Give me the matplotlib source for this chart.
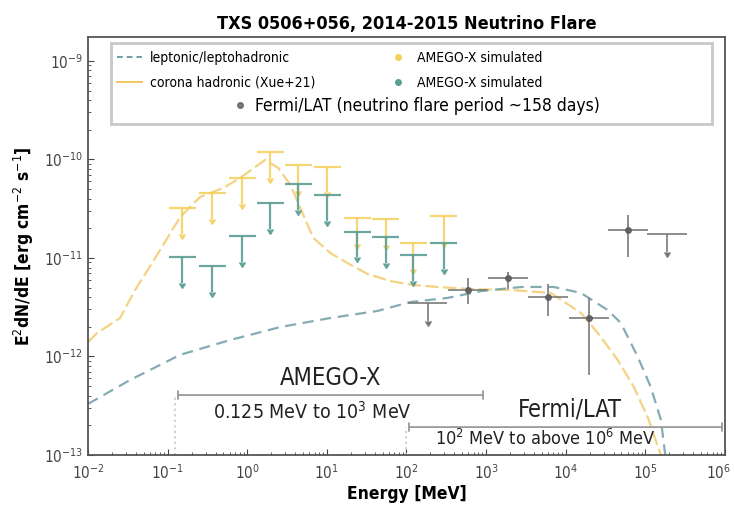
import numpy as np
import matplotlib.pyplot as plt
from matplotlib.lines import Line2D
from matplotlib.patches import Rectangle
from matplotlib.transforms import ScaledTranslation

plt.rcParams['font.family'] = ['DejaVu Sans']
plt.rcParams['font.stretch'] = 'condensed'
plt.rcParams['mathtext.fontset'] = 'custom'
plt.rcParams['mathtext.rm'] = 'DejaVu Sans:stretch=condensed'
plt.rcParams['mathtext.bf'] = 'DejaVu Sans:bold:stretch=condensed'

# model curves (energy in MeV, E^2 dN/dE in erg cm^-2 s^-1)
corona_e = [0.0100, 0.0130, 0.0253, 0.0390, 0.0638, 0.101, 0.144, 0.256, 0.499, 0.817,
            1.26, 1.68, 2.45, 3.48, 5.06, 6.76, 11.1, 18.1, 32.3, 63.0, 122, 245, 638,
            2030, 6470, 15500, 25300, 45100, 71600, 107000, 144000, 166000]
corona_f = [1.40e-12, 1.73e-12, 2.46e-12, 4.73e-12, 8.89e-12, 1.63e-11, 2.61e-11, 4.16e-11,
            5.14e-11, 6.49e-11, 8.39e-11, 9.89e-11, 8.20e-11, 5.51e-11, 2.74e-11, 1.60e-11,
            1.12e-11, 8.89e-12, 6.89e-12, 5.83e-12, 5.32e-12, 5.08e-12, 4.84e-12, 4.73e-12,
            4.42e-12, 2.77e-12, 1.73e-12, 9.20e-13, 4.90e-13, 2.43e-13, 1.21e-13, 8.9e-14]

lepto_e = [0.0100, 0.0337, 0.144, 0.611, 2.60, 11.1, 43.2, 112, 328, 877, 2800, 7060,
           15500, 33700, 49200, 80500, 117000, 157000, 181000]
lepto_f = [3.30e-13, 5.77e-13, 1.04e-12, 1.47e-12, 1.99e-12, 2.46e-12, 2.90e-12, 3.57e-12,
           3.93e-12, 4.62e-12, 5.08e-12, 5.08e-12, 4.42e-12, 2.96e-12, 2.19e-12, 9.89e-13,
           4.90e-13, 2.26e-13, 8.9e-14]

# AMEGO-X simulated upper limits
amego_e = [0.152, 0.363, 0.865, 1.95, 4.38, 10.1, 24.2, 54.5, 122, 292]
amego_yellow = [3.22e-11, 4.57e-11, 6.49e-11, 1.19e-10, 8.8e-11, 8.4e-11,
                2.55e-11, 2.49e-11, 1.42e-11, 2.67e-11]
amego_teal = [1.02e-11, 8.3e-12, 1.67e-11, 3.61e-11, 5.64e-11, 4.36e-11,
              1.84e-11, 1.63e-11, 1.07e-11, 1.42e-11]

# Fermi/LAT
fermi_e = [585, 1862, 5940, 19450, 60260]
fermi_f = [4.73e-12, 6.26e-12, 4.02e-12, 2.46e-12, 1.92e-11]
fermi_hi = [6.26e-12, 7.2e-12, 5.44e-12, 3.93e-12, 2.73e-11]
fermi_lo = [3.41e-12, 4.84e-12, 2.58e-12, 6.49e-13, 1.02e-11]
fermi_ul_e = [184, 186200]
fermi_ul_f = [3.49e-12, 1.75e-11]

x_ticks = [1e-2, 1e-1, 1e0, 1e1, 1e2, 1e3, 1e4, 1e5, 1e6]
y_ticks = [1e-13, 1e-12, 1e-11, 1e-10, 1e-9]

yellow = '#f4cf5a'
teal = '#5b9e94'
lep_col = '#6f9ea6'
gray = '#5a5a5a'


def xerr_dex(e, half):
    e = np.asarray(e)
    return [e - e / 10**half, e * 10**half - e]


def upper_limits(ax, e, f, color, half, z, alpha):
    f = np.asarray(f)
    _, caps, _ = ax.errorbar(e, f, yerr=0.45 * f, xerr=xerr_dex(e, half), uplims=True,
                             fmt='none', ecolor=color, elinewidth=1.6, capsize=0,
                             alpha=alpha, zorder=z)
    for c in caps:
        c.set_color(color)
        c.set_markersize(5)


fig = plt.figure(figsize=(7.34, 5.16), dpi=100)
ax = fig.add_axes([0.1199, 0.1182, 0.8678, 0.8101])
ax.set_xscale('log')
ax.set_yscale('log')

ax.plot(corona_e, corona_f, color='#f2c45a', lw=1.6, ls=(0, (6, 2)), alpha=0.75, zorder=2)
ax.plot(lepto_e, lepto_f, color=lep_col, lw=1.6, ls=(0, (5, 3)), alpha=0.85, zorder=2)

upper_limits(ax, amego_e, amego_yellow, yellow, 0.17, 3, 0.85)
upper_limits(ax, amego_e, amego_teal, teal, 0.17, 4, 0.9)

ff = np.array(fermi_f)
ax.errorbar(fermi_e, ff, yerr=[ff - np.array(fermi_lo), np.array(fermi_hi) - ff],
            xerr=xerr_dex(fermi_e, 0.25), fmt='o', ms=4, color=gray, ecolor='#7a7a7a',
            elinewidth=1.4, capsize=0, alpha=0.85, zorder=5)
uf = np.array(fermi_ul_f)
_, fcaps, _ = ax.errorbar(fermi_ul_e, uf, yerr=0.35 * uf, xerr=xerr_dex(fermi_ul_e, 0.25),
                          uplims=True, fmt='none', ecolor='#7a7a7a', elinewidth=1.4,
                          capsize=0, alpha=0.85, zorder=5)
for c in fcaps:
    c.set_color(gray)
    c.set_markersize(5)

# instrument ranges
ax.annotate('', xy=(1000, 4.06e-13), xytext=(0.125, 4.06e-13),
            arrowprops=dict(arrowstyle='|-|', color='#9a9a9a', lw=1.3, mutation_scale=3))
ax.plot([0.125, 0.125], [1e-13, 4.06e-13], color='#cfcfcf', ls=':', lw=1.5)
ax.text(11, 6.1e-13, 'AMEGO-X', ha='center', va='center', fontsize=17, color='#222222')
ax.text(6.5, 2.75e-13, '0.125 MeV to 10$^3$ MeV', ha='center', va='center',
        fontsize=14, color='#222222')

ax.annotate('', xy=(1e6, 1.92e-13), xytext=(100, 1.92e-13),
            arrowprops=dict(arrowstyle='|-|', color='#9a9a9a', lw=1.3, mutation_scale=3))
ax.plot([100, 100], [1e-13, 1.92e-13], color='#cfcfcf', ls=':', lw=1.5)
ax.text(11300, 2.9e-13, 'Fermi/LAT', ha='center', va='center', fontsize=17, color='#222222')
ax.text(5500, 1.45e-13, '10$^2$ MeV to above 10$^6$ MeV', ha='center', va='center',
        fontsize=13, color='#222222')

ax.set_xlim(1e-2, 1e6)
ax.set_ylim(1e-13, 1.75e-9)
ax.set_xticks(x_ticks)
ax.set_yticks(y_ticks)
ax.tick_params(which='both', direction='in', colors='#444444', labelsize=11)
ax.tick_params(axis='x', which='major', pad=6)
ax.tick_params(which='major', length=4)
ax.tick_params(which='minor', length=2)
for s in ax.spines.values():
    s.set_color('#555555')
    s.set_linewidth(1.3)

# keep the last x label inside the canvas
fig.canvas.draw()
last = ax.get_xticklabels()[-1]
last.set_transform(last.get_transform() + ScaledTranslation(-5 / 72, 0, fig.dpi_scale_trans))

ax.set_title('TXS 0506+056, 2014-2015 Neutrino Flare', fontsize=13, fontweight='bold', pad=6)
ax.set_xlabel('Energy [MeV]', fontsize=12.5, fontweight='bold', labelpad=2)
ax.set_ylabel('E$^2$dN/dE [erg cm$^{-2}$ s$^{-1}$]', fontsize=12.5, fontweight='bold', labelpad=6)

# legend box
ax.add_patch(Rectangle((0.036, 0.792), 0.944, 0.194, transform=ax.transAxes,
                       facecolor='white', edgecolor='#c8c8c8', lw=2, zorder=6))
h_lep = Line2D([], [], color=lep_col, ls=(0, (3, 2)), lw=1.4)
h_cor = Line2D([], [], color='#f2c45a', lw=1.4)
h_ay = Line2D([], [], color=yellow, marker='o', ms=4, ls='none')
h_at = Line2D([], [], color=teal, marker='o', ms=4, ls='none')
h_fe = Line2D([], [], color=gray, marker='o', ms=4, ls='none', alpha=0.8)

leg1 = ax.legend([h_lep, h_cor], ['leptonic/leptohadronic', 'corona hadronic (Xue+21)'],
                 loc='upper left', bbox_to_anchor=(0.045, 0.966), frameon=False,
                 fontsize=10, borderpad=0, borderaxespad=0, labelspacing=0.75,
                 handlelength=1.8, handletextpad=0.6)
leg1.set_zorder(7)
ax.add_artist(leg1)
leg2 = ax.legend([h_ay, h_at], ['AMEGO-X simulated', 'AMEGO-X simulated'],
                 loc='upper left', bbox_to_anchor=(0.47, 0.966), frameon=False,
                 fontsize=10, borderpad=0, borderaxespad=0, labelspacing=0.75,
                 handlelength=1.5, handletextpad=0.6)
leg2.set_zorder(7)
ax.add_artist(leg2)
leg3 = ax.legend([h_fe], ['Fermi/LAT (neutrino flare period ~158 days)'],
                 loc='upper left', bbox_to_anchor=(0.222, 0.857), frameon=False,
                 fontsize=12.5, borderpad=0, borderaxespad=0,
                 handlelength=1.2, handletextpad=0.3)
leg3.set_zorder(7)

fig.savefig('out.png', dpi=100)
